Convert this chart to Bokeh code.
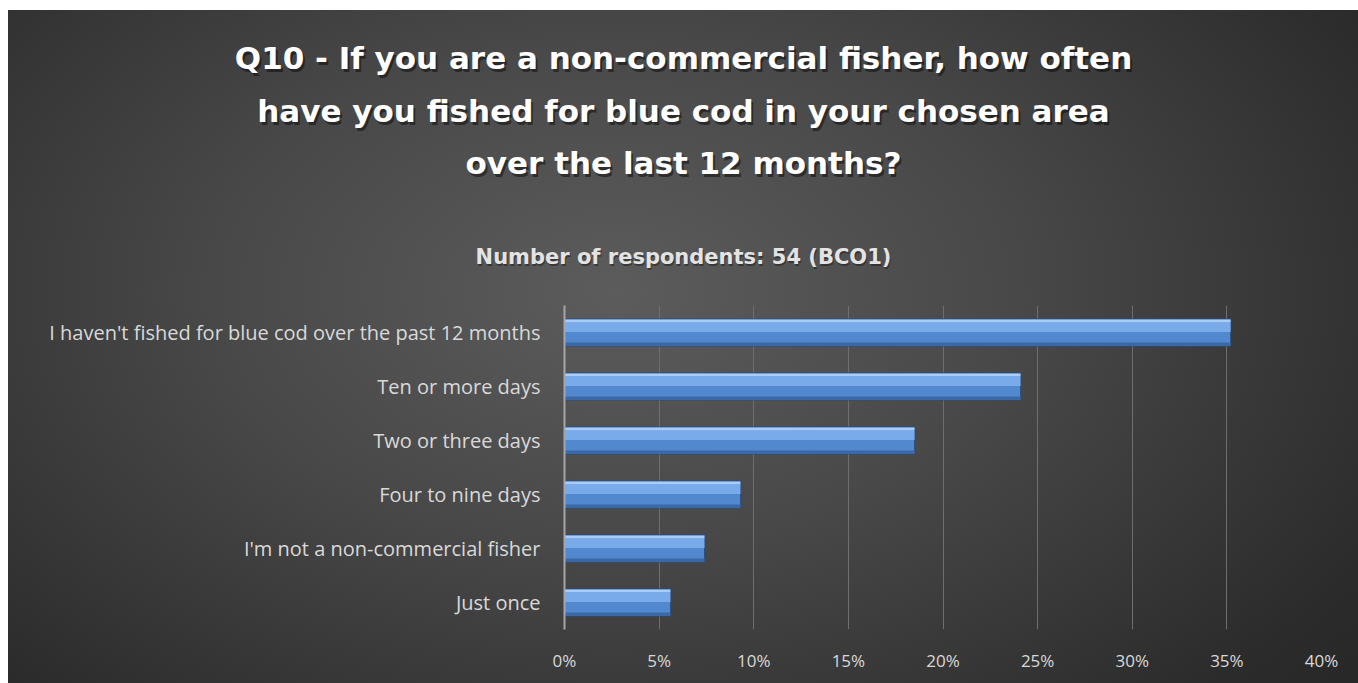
from bokeh.plotting import figure
from bokeh.layouts import column
from bokeh.models import NumeralTickFormatter, FixedTicker, ColumnDataSource, Range1d
from bokeh.transform import dodge
from bokeh.core.properties import value
from bokeh.embed import file_html
from bokeh.resources import INLINE

categories = [
    "I haven't fished for blue cod over the past 12 months",
    "Ten or more days",
    "Two or three days",
    "Four to nine days",
    "I'm not a non-commercial fisher",
    "Just once",
]
shares = [0.352, 0.241, 0.185, 0.093, 0.074, 0.056]
x_ticks = [0.0, 0.05, 0.10, 0.15, 0.20, 0.25, 0.30, 0.35, 0.40]

title_lines = [
    "Q10 - If you are a non-commercial fisher, how often",
    "have you fished for blue cod in your chosen area",
    "over the last 12 months?",
]
subtitle = "Number of respondents: 54 (BCO1)"

W = 1350
HEAD_H = 295
MAIN_H = 378

# ---------- heading (title + subtitle) ----------
head = figure(width=W, height=HEAD_H, x_range=Range1d(0, W), y_range=Range1d(HEAD_H, 0),
              output_backend="svg", toolbar_location=None,
              x_axis_type=None, y_axis_type=None,
              min_border=0)
head.frame_align = False
head.border_fill_alpha = 0
head.background_fill_alpha = 0
head.outline_line_color = None
head.grid.visible = False

line_y = [47, 100, 152]
head.text(x=[W / 2 + 2] * 3, y=[v + 3 for v in line_y], text=title_lines,
          text_align="center", text_baseline="middle", text_color="#000000", text_alpha=0.45,
          text_font=value("DejaVu Sans"), text_font_style="bold", text_font_size="31px")
head.text(x=[W / 2] * 3, y=line_y, text=title_lines,
          text_align="center", text_baseline="middle", text_color="#ffffff",
          text_font=value("DejaVu Sans"), text_font_style="bold", text_font_size="31px")
sub_y = 246
head.text(x=[W / 2 + 1], y=[sub_y + 2], text=[subtitle],
          text_align="center", text_baseline="middle", text_color="#000000", text_alpha=0.35,
          text_font=value("DejaVu Sans"), text_font_style="bold", text_font_size="21px")
head.text(x=[W / 2], y=[sub_y], text=[subtitle],
          text_align="center", text_baseline="middle", text_color="#e3e3e3",
          text_font=value("DejaVu Sans"), text_font_style="bold", text_font_size="21px")

# ---------- bar chart ----------
factors = list(reversed(categories))
source = ColumnDataSource(dict(cat=categories, val=shares))

p = figure(
    width=W, height=MAIN_H,
    y_range=factors, x_range=(0, 0.4),
    output_backend="svg", toolbar_location=None,
    min_border_left=556, min_border_right=37,
    min_border_top=0, min_border_bottom=54,
)
p.frame_align = False
p.border_fill_alpha = 0
p.background_fill_alpha = 0
p.outline_line_color = None

p.hbar(y="cat", right="val", height=0.5, left=0, source=source,
       fill_color="#5288cd", line_color="#2a4f80", line_width=1)
p.hbar(y=dodge("cat", 0.1, range=p.y_range), right="val", height=0.18, left=0, source=source,
       fill_color="#80b0ee", line_color=None, fill_alpha=0.85)
p.hbar(y=dodge("cat", 0.215, range=p.y_range), right="val", height=0.05, left=0, source=source,
       fill_color="#a9cdf9", line_color=None)
p.hbar(y=dodge("cat", -0.215, range=p.y_range), right="val", height=0.06, left=0, source=source,
       fill_color="#3b68a6", line_color=None)

p.xaxis.ticker = FixedTicker(ticks=x_ticks)
p.xaxis.formatter = NumeralTickFormatter(format="0%")
p.xaxis.axis_line_color = None
p.xaxis.major_tick_line_color = None
p.xaxis.minor_tick_line_color = None
p.xaxis.major_label_text_color = "#d9d9d9"
p.xaxis.major_label_text_font = "Open Sans"
p.xaxis.major_label_text_font_size = "17px"
p.xaxis.major_label_standoff = 13

p.yaxis.axis_line_color = "#a6a6a6"
p.yaxis.axis_line_width = 2
p.yaxis.major_tick_line_color = None
p.yaxis.minor_tick_line_color = None
p.yaxis.major_label_text_color = "#d9d9d9"
p.yaxis.major_label_text_font = "Open Sans"
p.yaxis.major_label_text_font_size = "20px"
p.yaxis.major_label_standoff = 18

p.xgrid.grid_line_color = "#6e6e6e"
p.xgrid.grid_line_width = 1
p.ygrid.grid_line_color = None

layout = column(head, p, spacing=0)
layout.margin = (10, 0, 0, 8)
layout.styles = {"background": "radial-gradient(ellipse 75% 95% at 45% 42%, #5c5c5c 0%, #484848 40%, #2b2b2b 85%, #262626 100%)"}

open("out.html", "w").write(file_html(layout, INLINE))
